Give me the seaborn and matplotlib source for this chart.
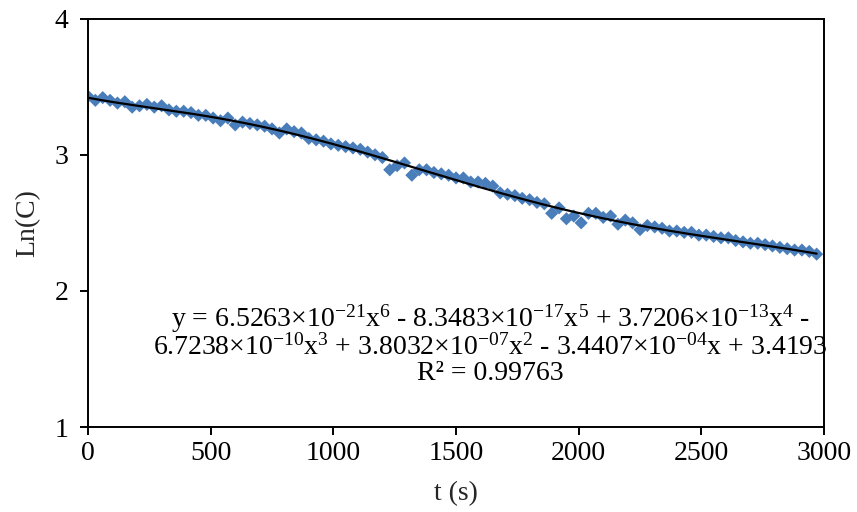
import numpy as np
import pandas as pd
import matplotlib
matplotlib.use("Agg")
import matplotlib.pyplot as plt
import seaborn as sns

# ---- data ----
t_values = list(range(0, 3000, 30))
ln_c = [
    3.43, 3.40, 3.42, 3.40, 3.38, 3.39, 3.35, 3.36, 3.37, 3.35,
    3.36, 3.33, 3.32, 3.32, 3.31, 3.29, 3.29, 3.27, 3.25, 3.27,
    3.22, 3.24, 3.23, 3.22, 3.21, 3.19, 3.16, 3.19, 3.17, 3.16,
    3.12, 3.11, 3.10, 3.08, 3.07, 3.06, 3.05, 3.04, 3.02, 3.00,
    2.98, 2.89, 2.92, 2.94, 2.85, 2.89, 2.89, 2.87, 2.86, 2.85,
    2.83, 2.83, 2.80, 2.80, 2.79, 2.77, 2.72, 2.71, 2.70, 2.68,
    2.67, 2.65, 2.64, 2.57, 2.61, 2.53, 2.55, 2.50, 2.57, 2.57,
    2.54, 2.55, 2.49, 2.52, 2.50, 2.45, 2.48, 2.47, 2.46, 2.44,
    2.44, 2.43, 2.43, 2.41, 2.41, 2.40, 2.39, 2.39, 2.37, 2.36,
    2.35, 2.35, 2.34, 2.33, 2.32, 2.31, 2.30, 2.30, 2.29, 2.27,
]
# trendline coefficients (highest power first), as printed on the chart
poly_coefs = [6.5263e-21, -8.3483e-17, 3.7206e-13, -6.7238e-10, 3.8032e-07, -3.4407e-04, 3.4193]
x_ticks = [0, 500, 1000, 1500, 2000, 2500, 3000]
y_ticks = [1, 2, 3, 4]

sns.set_style("ticks")
plt.rcParams["font.family"] = ["Liberation Serif", "DejaVu Serif"]
plt.rcParams["mathtext.fontset"] = "custom"
plt.rcParams["mathtext.rm"] = "Liberation Serif"
plt.rcParams["mathtext.default"] = "regular"

fig = plt.figure(figsize=(8.57, 5.12), dpi=100)
ax = fig.add_axes([0.1027, 0.166, 0.8588, 0.7975])

df = pd.DataFrame({"t": t_values, "lnc": ln_c})
sns.scatterplot(data=df, x="t", y="lnc", marker="D", s=45, color="#4A7EBB",
                edgecolor="none", ax=ax, zorder=2)

xf = np.linspace(t_values[0], t_values[-1], 400)
fit = pd.DataFrame({"t": xf, "y": np.polyval(poly_coefs, xf)})
sns.lineplot(data=fit, x="t", y="y", color="black", linewidth=1.6, ax=ax, zorder=3)

ax.set_xlim(0, 3000)
ax.set_ylim(1, 4)
ax.set_xticks(x_ticks)
ax.set_yticks(y_ticks)
ax.tick_params(axis="both", direction="out", length=6, width=1.4, labelsize=20,
               colors="black")
ax.tick_params(axis="y", pad=8)
ax.tick_params(axis="x", pad=4)
for s in ax.spines.values():
    s.set_visible(True)
    s.set_linewidth(1.4)
    s.set_color("black")
ax.set_xlabel("t (s)", fontsize=20, labelpad=11)
ax.set_ylabel("Ln(C)", fontsize=20, labelpad=10)

eq = ("y = 6.5263×10$^{-21}$x$^{6}$ - 8.3483×10$^{-17}$x$^{5}$ + 3.7206×10$^{-13}$x$^{4}$ -\n"
      "6.7238×10$^{-10}$x$^{3}$ + 3.8032×10$^{-07}$x$^{2}$ - 3.4407×10$^{-04}$x + 3.4193\n"
      "R² = 0.99763")
ax.text(1640, 1.61, eq, ha="center", va="center", fontsize=20, linespacing=0.98,
        color="black", multialignment="center")

fig.savefig("out.png", dpi=100)
